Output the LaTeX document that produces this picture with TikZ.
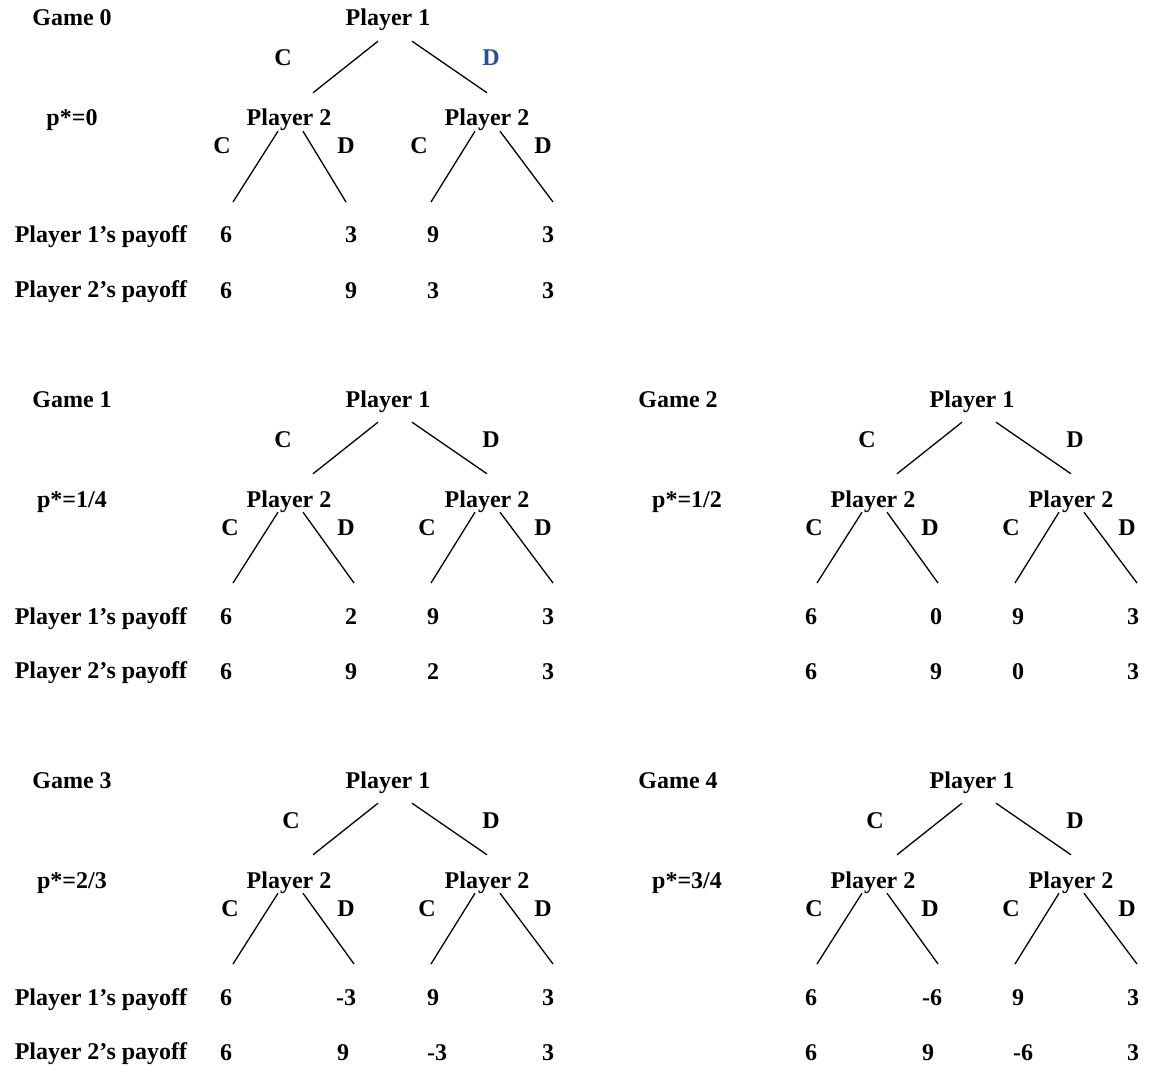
\documentclass[tikz,border=0pt]{standalone}
\usepackage{fontspec}
\setmainfont{Liberation Serif}
\definecolor{dblue}{HTML}{2A5290}
\tikzset{
  lbl/.style={font=\bfseries\fontsize{24}{28}\selectfont, inner sep=0pt, anchor=base,
              text height=17pt, text depth=5pt},
  branch/.style={draw=black, line width=1.3pt},
}
% #1 prefix, #2 dx, #3 dy, #4 colour of the top D, #5 x of top C,
% #6 shift of the lower C labels, #7 x of the end of the left D branch
\newcommand\gametree[7]{%
  \begin{scope}[shift={(#2,#3)}]
    \node[lbl] (#1p1) at (388,26) {Player 1};
    \node[lbl] (#1c) at (#5,66) {C};
    \node[lbl,text=#4] (#1d) at (491,66) {D};
    \node[lbl] (#1pa) at (289,126) {Player 2};
    \node[lbl] (#1pb) at (487,126) {Player 2};
    \node[lbl] (#1ac) at ({222+#6},154) {C};
    \node[lbl] (#1ad) at (346,154) {D};
    \node[lbl] (#1bc) at ({419+#6},154) {C};
    \node[lbl] (#1bd) at (543,154) {D};
    \coordinate (#1la) at (233,202);
    \coordinate (#1lb) at (#7,202);
    \coordinate (#1lc) at (431,202);
    \coordinate (#1ld) at (553,202);
    \draw[branch] ([xshift=-10pt,yshift=-10pt]#1p1.south) -- ([xshift=24pt,yshift=16pt]#1pa.north);
    \draw[branch] ([xshift=24pt,yshift=-10pt]#1p1.south) -- ([xshift=0pt,yshift=16pt]#1pb.north);
    \draw[branch] ([xshift=-11pt]#1pa.south) -- (#1la);
    \draw[branch] ([xshift=14pt]#1pa.south) -- (#1lb);
    \draw[branch] ([xshift=-12pt]#1pb.south) -- (#1lc);
    \draw[branch] ([xshift=13pt]#1pb.south) -- (#1ld);
  \end{scope}}
% #1 prefix, #2 dx, #3 dy, #4 row 1 (value/x), #5 row 2 (value/x)
\newcommand\payoffs[5]{%
  \begin{scope}[shift={(#2,#3)}]
    \foreach \v/\x [count=\i] in {#4} \node[lbl] (#1r\i) at (\x,243) {\v};
    \foreach \v/\x [count=\i] in {#5} \node[lbl] (#1s\i) at (\x,298) {\v};
  \end{scope}}
\newcommand\payofflabels[2]{%
  \begin{scope}[shift={(0,#2)}]
    \node[lbl] (#1pl1) at (101,243) {Player 1’s payoff};
    \node[lbl] (#1pl2) at (101,297) {Player 2’s payoff};
  \end{scope}}
\begin{document}
\begin{tikzpicture}[x=1pt,y=-1pt]
  \useasboundingbox (0,0) rectangle (1151,1078);
  % Game 0
  \node[lbl] (g0t) at (72,26) {Game 0};
  \node[lbl] (g0p) at (72,126) {p*=0};
  \gametree{g0}{0}{0}{dblue}{283}{0}{346}
  \payofflabels{g0}{0}
  \payoffs{g0}{0}{0}{6/226,3/351,9/433,3/548}{6/226,9/351,3/433,3/548}
  % Game 1
  \node[lbl] (g1t) at (72,407) {Game 1};
  \node[lbl] (g1p) at (72,507) {p*=1/4};
  \gametree{g1}{0}{381}{black}{283}{8}{354}
  \payofflabels{g1}{381}
  \payoffs{g1}{0}{381}{6/226,2/351,9/433,3/548}{6/226,9/351,2/433,3/548}
  % Game 2
  \node[lbl] (g2t) at (678,407) {Game 2};
  \node[lbl] (g2p) at (687,507) {p*=1/2};
  \gametree{g2}{584}{381}{black}{283}{8}{354}
  \payoffs{g2}{585}{381}{6/226,0/351,9/433,3/548}{6/226,9/351,0/433,3/548}
  % Game 3
  \node[lbl] (g3t) at (72,788) {Game 3};
  \node[lbl] (g3p) at (72,888) {p*=2/3};
  \gametree{g3}{0}{762}{black}{291}{8}{354}
  \payofflabels{g3}{762}
  \payoffs{g3}{0}{762}{6/226,-3/346,9/433,3/548}{6/226,9/343,-3/437,3/548}
  % Game 4
  \node[lbl] (g4t) at (678,788) {Game 4};
  \node[lbl] (g4p) at (687,888) {p*=3/4};
  \gametree{g4}{584}{762}{black}{291}{8}{354}
  \payoffs{g4}{585}{762}{6/226,-6/347,9/433,3/548}{6/226,9/343,-6/438,3/548}
\end{tikzpicture}
\end{document}
